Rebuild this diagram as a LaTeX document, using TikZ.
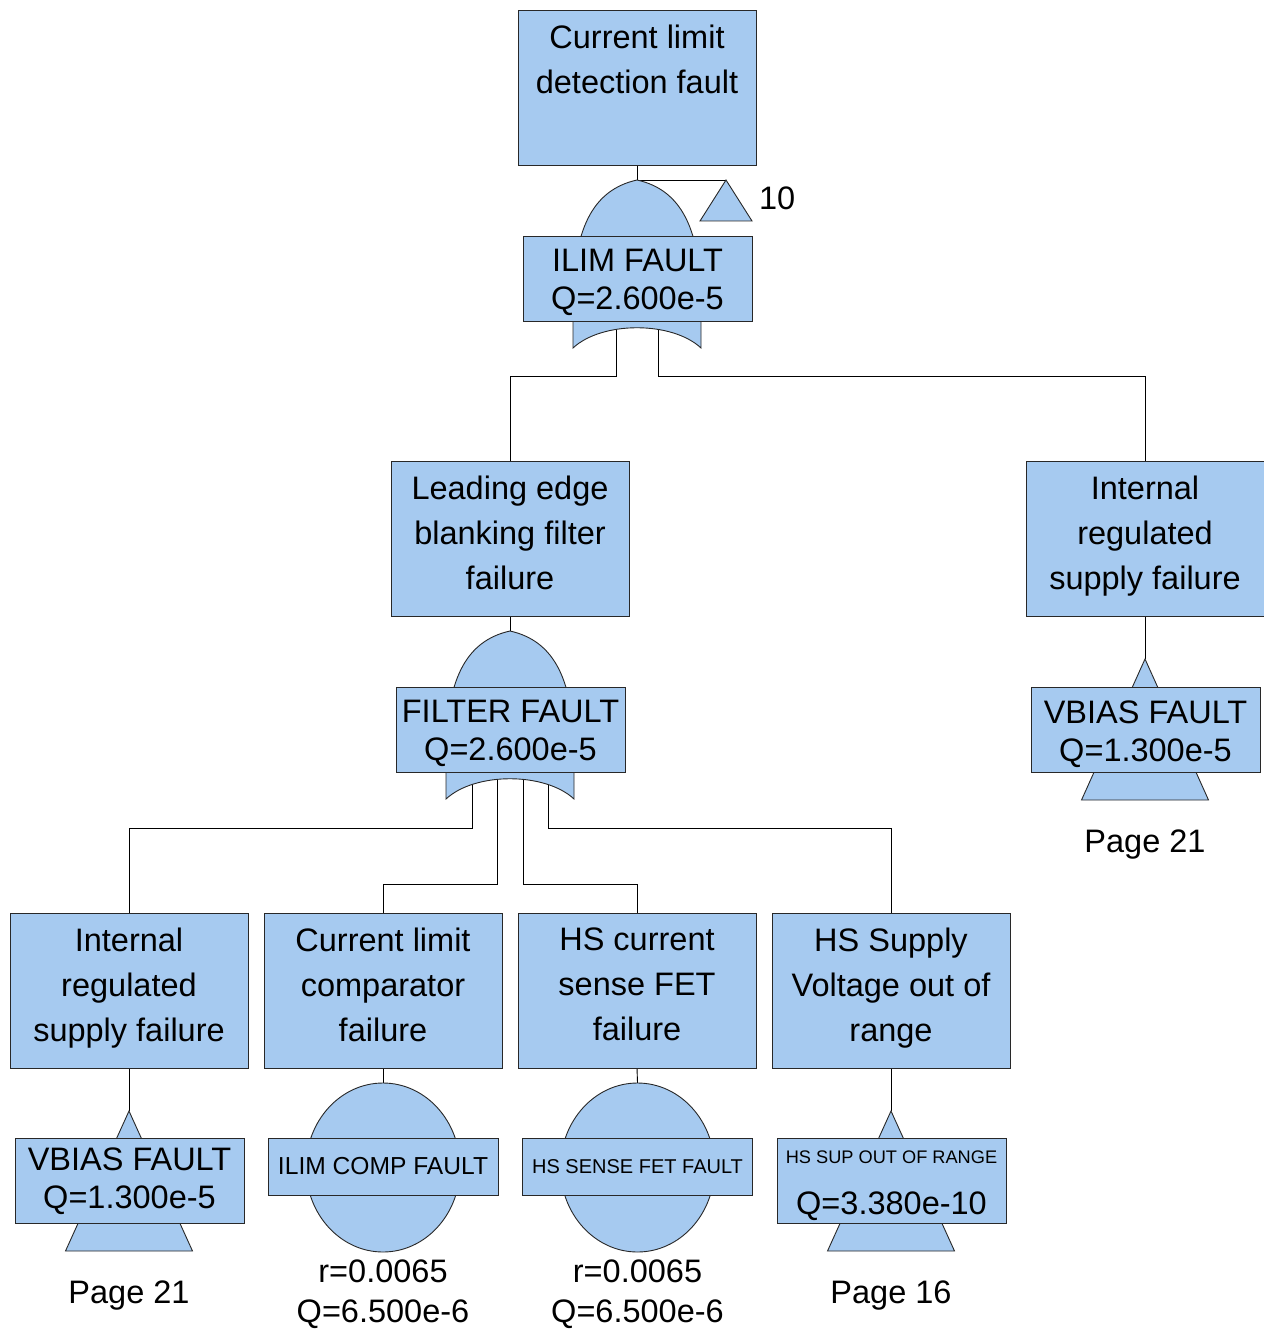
\documentclass[tikz,border=0pt]{standalone}
\usepackage{fontspec}
\setmainfont{Liberation Sans}
\usetikzlibrary{backgrounds,shapes.geometric}
\definecolor{fbblue}{RGB}{166,202,240}
\definecolor{edgecol}{RGB}{40,40,40}
\begin{document}
\begin{tikzpicture}[x=1pt,y=-1pt,
  every node/.style={inner sep=0pt, outer sep=0pt},
  evbox/.style={draw=edgecol, fill=fbblue, line width=0.9pt, minimum width=238pt, minimum height=155pt},
  evtext/.style={anchor=north, align=center, font=\fontsize{32.5}{45}\selectfont},
  gatebox/.style={draw=edgecol, fill=fbblue, line width=0.9pt, minimum width=229pt, minimum height=85pt},
  gatetext/.style={align=center, font=\fontsize{32.5}{38}\selectfont},
  basicbox/.style={draw=edgecol, fill=fbblue, line width=0.9pt, minimum width=230pt, minimum height=57pt},
  basicev/.style={draw=edgecol, fill=fbblue, line width=0.9pt, ellipse, minimum width=154pt, minimum height=169pt},
  symb/.style={draw=edgecol, fill=fbblue, line width=0.9pt},
  conn/.style={draw=black, line width=0.9pt},
  plain/.style={font=\fontsize{32.5}{38}\selectfont, anchor=base},
  orgate/.pic={\path[symb] (0,0) .. controls (-45,10) and (-64,50) .. (-64,125) -- (-64,168) .. controls (-35,141) and (35,141) .. (64,168) -- (64,125) .. controls (64,50) and (45,10) .. (0,0) -- cycle;}
]
\useasboundingbox (0,0) rectangle (1263,1329);

% ---------- top event ----------
\node[evbox] (top) at (637,87.5) {};
\node[evtext] (topT) at (637,25) {Current limit\\detection fault};

% ---------- gate 1 ----------
\coordinate (g1a) at (637,180);
\pic at (g1a) {orgate};
\coordinate (x10a) at (726,180);
\path[symb] (x10a) -- (752,221) -- (700,221) -- cycle;
\node[plain, anchor=base west] (ten) at (759,210) {10};
\node[gatebox] (ilim) at (637.5,278.5) {};
\node[gatetext] (ilimT) at (637.5,282.5) {ILIM FAULT\\Q=2.600e-5};
\coordinate (g1oL) at (616,325);
\coordinate (g1oR) at (658,325);

% ---------- level 2 ----------
\node[evbox] (lead) at (510,539) {};
\node[evtext] (leadT) at (510,476) {Leading edge\\blanking filter\\failure};
\node[evbox] (rint) at (1145,539) {};
\node[evtext] (rintT) at (1145,476) {Internal\\regulated\\supply failure};

% ---------- gate 2 ----------
\coordinate (g2a) at (510,631);
\pic at (g2a) {orgate};
\node[gatebox] (filt) at (510.5,729.5) {};
\node[gatetext] (filtT) at (510.5,733.5) {FILTER FAULT\\Q=2.600e-5};
\coordinate (g2o1) at (472,776);
\coordinate (g2o2) at (497,776);
\coordinate (g2o3) at (523,776);
\coordinate (g2o4) at (548,776);

% ---------- right transfer ----------
\coordinate (t1a) at (1145,659);
\path[symb] (t1a) -- (1208.5,800) -- (1081.5,800) -- cycle;
\node[gatebox] (vb1) at (1145.5,729.5) {};
\node[gatetext] (vb1T) at (1145.5,734) {VBIAS FAULT\\Q=1.300e-5};
\node[plain] (p21a) at (1145,852) {Page 21};

% ---------- level 3 ----------
\node[evbox] (b1) at (129,990.5) {};
\node[evtext] (b1T) at (129,928) {Internal\\regulated\\supply failure};
\node[evbox] (b2) at (383,990.5) {};
\node[evtext] (b2T) at (383,928) {Current limit\\comparator\\failure};
\node[evbox] (b3) at (637,990.5) {};
\node[evtext] (b3T) at (637,928) {HS current\\sense FET\\failure};
\node[evbox] (b4) at (891,990.5) {};
\node[evtext] (b4T) at (891,928) {HS Supply\\Voltage out of\\range};

% transfer under b1
\coordinate (t2a) at (129,1111);
\path[symb] (t2a) -- (192.5,1251) -- (65.5,1251) -- cycle;
\node[gatebox] (vb2) at (129.5,1181) {};
\node[gatetext] (vb2T) at (129.5,1181) {VBIAS FAULT\\Q=1.300e-5};
\node[plain] (p21b) at (129,1303) {Page 21};

% basic event under b2
\node[basicev] (e1) at (383,1167.5) {};
\node[basicbox, font=\fontsize{24.6}{30}\selectfont] (bb1) at (383,1166.5) {ILIM COMP FAULT};
\node[plain] (r1) at (383,1282) {r=0.0065};
\node[plain] (q1) at (383,1322) {Q=6.500e-6};

% basic event under b3
\node[basicev] (e2) at (637.5,1167.5) {};
\node[basicbox, font=\fontsize{20}{24}\selectfont] (bb2) at (637.5,1166.5) {HS SENSE FET FAULT};
\node[plain] (r2) at (637.5,1282) {r=0.0065};
\node[plain] (q2) at (637.5,1322) {Q=6.500e-6};

% transfer under b4
\coordinate (t3a) at (891,1111);
\path[symb] (t3a) -- (954.5,1251) -- (827.5,1251) -- cycle;
\node[gatebox] (hs) at (891.5,1181) {};
\node[plain, font=\fontsize{18.2}{22}\selectfont] (hsT) at (891.5,1163.5) {HS SUP OUT OF RANGE};
\node[plain] (hsQ) at (891.5,1214.5) {Q=3.380e-10};
\node[plain] (p16) at (891,1303) {Page 16};

% ---------- connectors ----------
\begin{pgfonlayer}{background}
\draw[conn] (top.south) -- (g1a) -- (x10a);
\draw[conn] (g1oL) -- ++(0,51) -| (lead.north);
\draw[conn] (g1oR) -- ++(0,51) -| (rint.north);
\draw[conn] (lead.south) -- (g2a);
\draw[conn] (rint.south) -- (t1a);
\draw[conn] (g2o1) -- ++(0,52) -| (b1.north);
\draw[conn] (g2o2) -- ++(0,108) -| (b2.north);
\draw[conn] (g2o3) -- ++(0,108) -| (b3.north);
\draw[conn] (g2o4) -- ++(0,52) -| (b4.north);
\draw[conn] (b1.south) -- (t2a);
\draw[conn] (b2.south) -- (e1.north);
\draw[conn] (b3.south) -- (e2.north);
\draw[conn] (b4.south) -- (t3a);
\end{pgfonlayer}
\end{tikzpicture}
\end{document}
